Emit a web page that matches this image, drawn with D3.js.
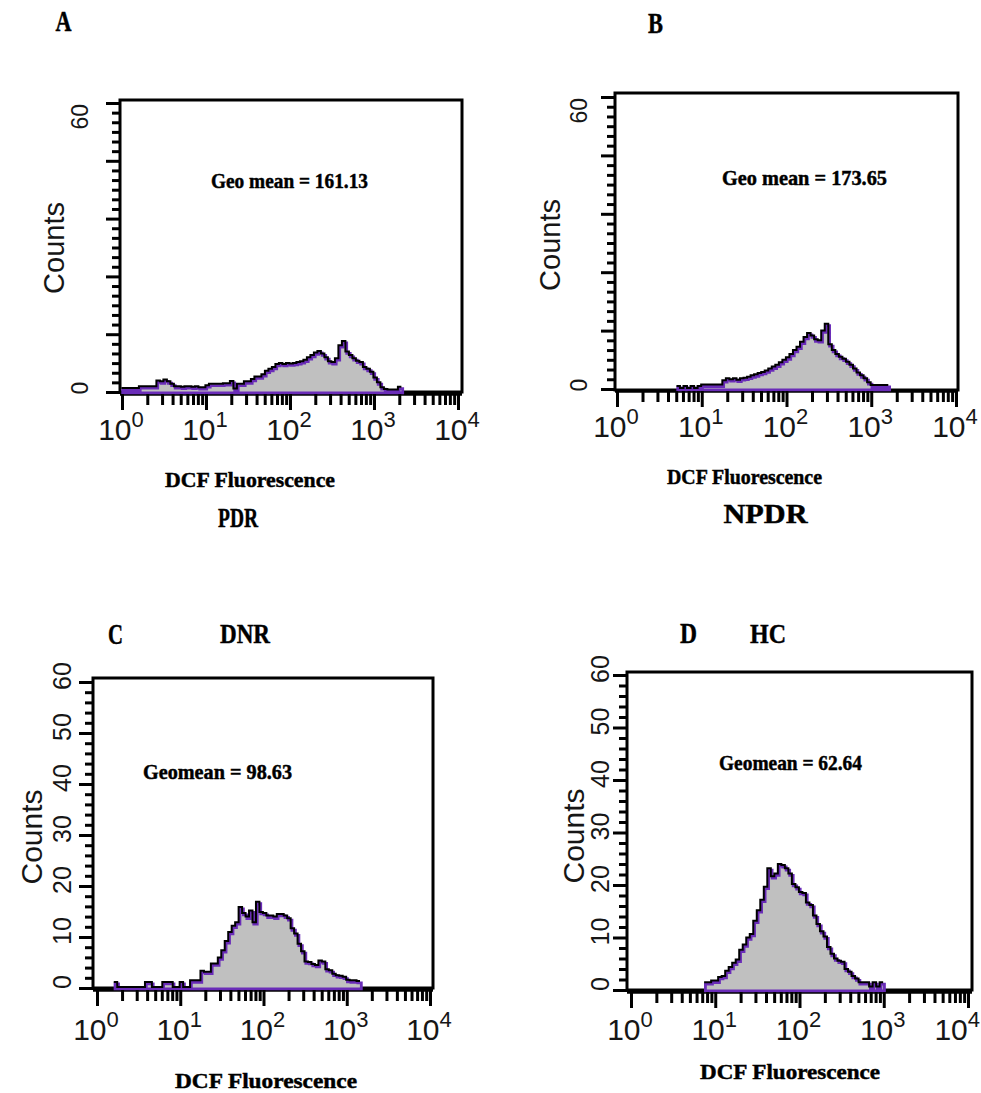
<!DOCTYPE html>
<html>
<head>
<meta charset="utf-8">
<script src="https://cdn.jsdelivr.net/npm/d3@7"></script>
<style>
  body { margin: 0; background: #fff; }
  svg { display: block; }
</style>
</head>
<body>
<svg id="fig" width="981" height="1093"></svg>
<script>
// ---- data -------------------------------------------------------------
// Histogram channels: 24 bins per decade on a 10^0 .. 10^4 log axis.
const binsPerDecade = 24;
const decadeExponents = [0, 1, 2, 3, 4];
const minorMultipliers = [2, 3, 4, 5, 6, 7, 8, 9];
const sparseCountLabels = [0, 60];
const fullCountLabels = [0, 10, 20, 30, 40, 50, 60];

// PDR
const pdrStart = 0;
const pdrCounts = [
  0.6, 0.6, 0.6, 0.6, 0.6, 1, 1, 1, 1, 1,
  2.2, 2, 2.4, 2, 1.5, 1, 1, 0.9, 1, 1,
  0.9, 1, 0.8, 0.8, 1.2, 1.5, 1.5, 1.5, 1.5, 1.6,
  1.6, 2.1, 0.5, 1.5, 1.5, 2, 2, 2.5, 3, 3,
  3.5, 4.2, 4.6, 5, 5.6, 5.8, 5.6, 5.8, 5.7, 5.8,
  6, 6.2, 6.5, 7, 7.5, 8, 8.3, 7.8, 7, 6.2,
  6, 6.8, 9.5, 10.4, 8.2, 7.5, 6.8, 6.3, 6, 5,
  4.6, 4, 2.8, 1.8, 0.8, 0.4, 0.3, 0.3, 0.3, 0.9
];

// NPDR
const npdrStart = 17;
const npdrCounts = [
  0.4, 0, 0.4, 0, 0.4, 0, 0.4,
  0.7, 0.7, 0.7, 0.7, 0.7, 0.7,
  1.6, 2, 1.8, 2, 1.7, 2, 2.1, 2.3,
  2.6, 2.8, 3.1, 3.3, 3.6, 4, 4.4, 4.8, 5.3, 5.8,
  6.3, 7, 7.8, 8.5, 9.5, 10.5, 11.3, 10.8, 10, 9.8,
  11.8, 13.2, 9, 7.8, 7, 6.4, 6, 5.4, 4.8,
  4, 3.2, 2.6, 2, 1.2, 0.6, 0.6, 0.6, 0.6, 0.6
];

// DNR
const dnrStart = 5;
const dnrCounts = [
  1, 0, 0, 0, 0, 0, 0, 0, 0, 1,
  1, 0, 0, 0, 1, 1, 1, 0, 0, 1,
  0, 0, 1.3, 1.3, 1.3, 3.2, 3, 3, 4.6, 4.6,
  5.8, 7.2, 9, 10.8, 12, 12.7, 15.7, 14.5, 13.8, 15,
  12.7, 16.7, 14.7, 14.5, 14, 14, 13.8, 14.3, 14.3, 14,
  13.5, 11.5, 10.5, 8.5, 7, 5, 4.9, 4.5, 4.3, 5.2,
  5, 3.5, 3.3, 2.6, 2.3, 2.2, 2, 1.4, 1.3, 1.3, 1.2
];

// HC
const hcStart = 21;
const hcCounts = [
  1.3, 1.3, 1.6, 1.6, 2.3, 2.5, 3.5, 4.2, 5, 5.6,
  7.5, 8.5, 9.8, 10.5, 13, 15, 17, 19.5, 23, 21.5,
  22, 23.8, 23.6, 23, 22, 20, 19.4, 18.5, 18.3, 16.5,
  16, 14, 12.4, 11, 10, 8, 6.7, 5.8, 5.4, 5.2,
  3.8, 3.3, 2.5, 2, 1.3, 1.3, 1.3, 0.5, 1.3, 0.5, 1.3
];

const panelLetters = ["A", "B", "C", "D"];
const groupNames = ["PDR", "NPDR", "DNR", "HC"];
const geoMeanTexts = ["Geo mean = 161.13", "Geo mean = 173.65", "Geomean = 98.63", "Geomean = 62.64"];
const xAxisTitle = "DCF Fluorescence";
const yAxisTitle = "Counts";

// ---- layout -----------------------------------------------------------
const figWidth = 981;
const layouts = [
  { frame: [120, 100, 462, 392], xr: [122, 458], yr: [392, 103], full: false,
    counts: [64, 248, 29], yLab: 88, xLabBase: 440,
    geo: [289.5, 188, 157], dcf: [250, 487, 170], letter: [63.5, 31, 16], group: [238, 527, 40] },
  { frame: [615, 93, 958, 390], xr: [617, 956], yr: [389, 97], full: false,
    counts: [560, 245, 29], yLab: 587, xLabBase: 437,
    geo: [804.5, 185, 165], dcf: [744.5, 484, 155], letter: [655.5, 33, 15], group: [765.5, 523, 84] },
  { frame: [93, 678, 433, 988], xr: [97, 430], yr: [988, 682], full: true,
    counts: [42, 837, 30], yLab: 71, xLabBase: 1040,
    geo: [217.5, 779, 149], dcf: [266, 1088, 182], letter: [115.5, 644, 15], group: [245, 643, 50] },
  { frame: [627, 672, 972, 990], xr: [631, 968], yr: [990, 675], full: true,
    counts: [584, 836, 30], yLab: 609, xLabBase: 1040,
    geo: [790.5, 770, 143], dcf: [790, 1079, 180], letter: [688.5, 643, 17], group: [768, 643, 36] }
];

const series = [
  { start: pdrStart, counts: pdrCounts },
  { start: npdrStart, counts: npdrCounts },
  { start: dnrStart, counts: dnrCounts },
  { start: hcStart, counts: hcCounts }
];

const serif = "'Liberation Serif', 'Times New Roman', serif";
const sans = "'Liberation Sans', Arial, Helvetica, sans-serif";
const ink = "#161616";

const svg = d3.select("#fig");

function fittedSerif(g, text, cx, base, width, size) {
  g.append("text")
    .attr("x", cx).attr("y", base)
    .attr("text-anchor", "middle")
    .attr("font-family", serif).attr("font-weight", "bold")
    .attr("font-size", size)
    .attr("textLength", width).attr("lengthAdjust", "spacingAndGlyphs")
    .attr("fill", "#000")
    .attr("stroke", "#000").attr("stroke-width", 0.45)
    .text(text);
}

function drawPanel(i) {
  const L = layouts[i];
  const S = series[i];
  const g = svg.append("g");
  const [fx0, fy0, fx1, fy1] = L.frame;

  const x = d3.scaleLog().domain([1, 1e4]).range(L.xr);
  const y = d3.scaleLinear().domain([0, 60]).range(L.yr);

  // plot frame and base line
  g.append("rect")
    .attr("x", fx0).attr("y", fy0)
    .attr("width", fx1 - fx0).attr("height", fy1 - fy0)
    .attr("fill", "none").attr("stroke", "#000").attr("stroke-width", 3);
  g.append("line")
    .attr("x1", fx0).attr("x2", fx1)
    .attr("y1", y(0) + 2).attr("y2", y(0) + 2)
    .attr("stroke", "#000").attr("stroke-width", 3.5);

  // histogram (step outline)
  const edge = k => Math.pow(10, k / binsPerDecade);
  const n = S.counts.length;
  const pts = [[edge(S.start), 0]];
  S.counts.forEach((c, k) => pts.push([edge(S.start + k), c]));
  pts.push([edge(S.start + n), S.counts[n - 1]]);
  pts.push([edge(S.start + n), 0]);

  const area = d3.area().curve(d3.curveStepAfter)
    .x(d => x(d[0])).y0(y(0)).y1(d => y(d[1]));
  const line = d3.line().curve(d3.curveStepAfter)
    .x(d => x(d[0])).y(d => y(d[1]));

  g.append("path").attr("d", area(pts)).attr("fill", "#c0c0c0");
  g.append("path").attr("d", line(pts) + "Z")
    .attr("fill", "none").attr("stroke", "#6a2cb8").attr("stroke-width", 2.8)
    .attr("stroke-linejoin", "miter")
    .attr("transform", "translate(0.7,0.9)");
  g.append("path").attr("d", line(pts.slice(1, -1)))
    .attr("fill", "none").attr("stroke", "#000").attr("stroke-width", 2)
    .attr("transform", "translate(-0.6,-1)");

  // x axis: decade and minor ticks
  const majors = decadeExponents.map(e => Math.pow(10, e));
  const minors = [];
  decadeExponents.slice(0, -1).forEach(e => minorMultipliers.forEach(m => minors.push(m * Math.pow(10, e))));

  const xMinor = g.append("g").attr("transform", `translate(0,${y(0) + 2})`)
    .call(d3.axisBottom(x).tickValues(minors).tickSize(11).tickFormat(""));
  const xMajor = g.append("g").attr("transform", `translate(0,${y(0) + 2})`)
    .call(d3.axisBottom(x).tickValues(majors).tickSize(16).tickFormat(""));
  [xMinor, xMajor].forEach(a => {
    a.select(".domain").remove();
    a.selectAll(".tick line").attr("stroke", "#000").attr("stroke-width", 3);
  });

  // decade labels 10^n (kept inside the page at the right edge)
  const xl = g.append("g");
  decadeExponents.forEach(e => {
    const t = xl.append("text")
      .attr("x", x(Math.pow(10, e)) - 1).attr("y", L.xLabBase)
      .attr("text-anchor", "middle")
      .attr("font-family", sans).attr("font-size", 30)
      .attr("fill", ink);
    t.append("tspan").text("10");
    t.append("tspan").attr("dy", -13).attr("font-size", 22).text(String(e));
    const bb = t.node().getBBox();
    if (bb.x + bb.width > figWidth - 1) {
      t.attr("x", +t.attr("x") - (bb.x + bb.width - (figWidth - 1)));
    }
  });

  // y axis
  let majorVals, minorVals, labels;
  if (L.full) {
    majorVals = d3.range(0, 61, 10);
    minorVals = d3.range(0, 61, 2).filter(v => v % 10 !== 0);
    labels = fullCountLabels;
  } else {
    majorVals = d3.range(0, 61, 12);
    minorVals = d3.range(0, 61, 2).filter(v => v % 12 !== 0);
    labels = sparseCountLabels;
  }
  const yMinor = g.append("g").attr("transform", `translate(${fx0},0)`)
    .call(d3.axisLeft(y).tickValues(minorVals).tickSize(8).tickFormat(""));
  const yMajor = g.append("g").attr("transform", `translate(${fx0},0)`)
    .call(d3.axisLeft(y).tickValues(majorVals).tickSize(14).tickFormat(""));
  [yMinor, yMajor].forEach(a => {
    a.select(".domain").remove();
    a.selectAll(".tick line").attr("stroke", "#000").attr("stroke-width", 3);
  });

  labels.forEach(v => {
    const topLabel = !L.full && v === 60;
    const cy = topLabel ? y(v) + 1 : y(v) - (L.full ? 6 : 4);
    g.append("text")
      .attr("transform", `translate(${L.yLab},${cy}) rotate(-90)`)
      .attr("text-anchor", topLabel ? "end" : "middle")
      .attr("font-family", sans).attr("font-size", L.full ? 25 : 23)
      .attr("fill", ink)
      .text(v);
  });

  // axis titles
  g.append("text")
    .attr("transform", `translate(${L.counts[0]},${L.counts[1]}) rotate(-90)`)
    .attr("text-anchor", "middle")
    .attr("font-family", sans).attr("font-size", L.counts[2])
    .attr("fill", ink)
    .text(yAxisTitle);

  fittedSerif(g, xAxisTitle, L.dcf[0], L.dcf[1], L.dcf[2], 21);
  fittedSerif(g, geoMeanTexts[i], L.geo[0], L.geo[1], L.geo[2], 20);
  fittedSerif(g, panelLetters[i], L.letter[0], L.letter[1], L.letter[2], 29);
  fittedSerif(g, groupNames[i], L.group[0], L.group[1], L.group[2], 28);
}

d3.range(4).forEach(drawPanel);
</script>
</body>
</html>
